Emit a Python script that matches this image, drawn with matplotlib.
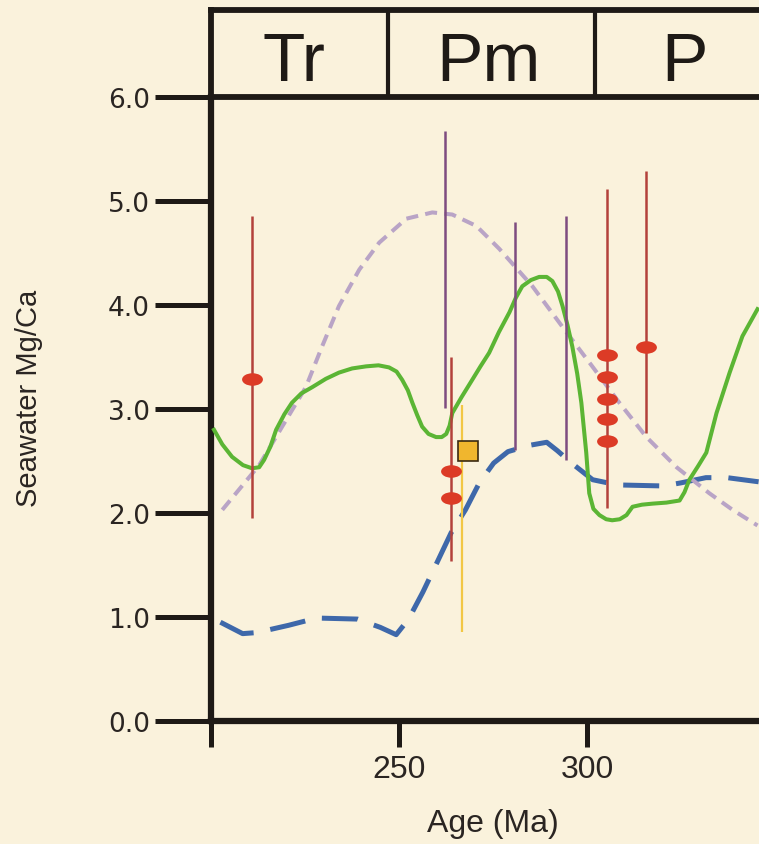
import matplotlib
matplotlib.use("Agg")
import matplotlib.pyplot as plt
from matplotlib import font_manager
from matplotlib.path import Path
from matplotlib.transforms import Affine2D

# green solid curve (age Ma, Mg/Ca)
green_age = [200.8, 203.0, 205.6, 208.5, 210.9, 212.8, 214.1, 215.8, 217.3, 219.5, 221.5, 224.0, 226.9,
             230.5, 234.0, 237.5, 241.2, 244.5, 247.3, 249.3, 250.8, 252.3, 253.5, 254.8, 256.1, 257.8,
             259.8, 261.3, 262.5, 263.4, 264.1, 266.5, 269.4, 271.6, 273.9, 276.5, 279.3, 281.0, 282.7,
             285.0, 287.2, 289.2, 290.7, 292.2, 293.4, 294.7, 296.0, 297.3, 298.4, 299.7, 300.5, 301.6,
             303.2, 305.0, 306.6, 308.6, 310.4, 312.0, 314.5, 317.3, 321.0, 324.5, 325.8, 327.1, 329.4,
             331.6, 334.3, 337.8, 341.2, 345.2]
green_val = [2.80, 2.66, 2.54, 2.46, 2.43, 2.44, 2.51, 2.64, 2.80, 2.95, 3.06, 3.15, 3.21,
             3.29, 3.35, 3.39, 3.41, 3.42, 3.40, 3.36, 3.28, 3.18, 3.06, 2.94, 2.83, 2.76,
             2.73, 2.73, 2.76, 2.84, 2.96, 3.11, 3.28, 3.41, 3.54, 3.74, 3.93, 4.07, 4.18,
             4.24, 4.27, 4.27, 4.23, 4.13, 3.99, 3.81, 3.60, 3.34, 3.06, 2.58, 2.19, 2.04,
             1.98, 1.94, 1.93, 1.94, 1.98, 2.06, 2.08, 2.09, 2.10, 2.12, 2.20, 2.32, 2.45,
             2.58, 2.96, 3.35, 3.70, 3.96]

# lavender dashed curve
lav_age = [203.0, 212.8, 218.9, 225.2, 229.5, 234.0, 239.4, 244.7, 251.9, 258.8, 264.1, 270.5,
           276.6, 285.4, 294.4, 301.3, 308.5, 315.7, 323.7, 332.4, 338.6, 345.2]
lav_val = [2.03, 2.46, 2.83, 3.21, 3.60, 3.99, 4.34, 4.60, 4.83, 4.89, 4.87, 4.76,
           4.54, 4.18, 3.74, 3.41, 3.06, 2.73, 2.44, 2.19, 2.03, 1.88]

# blue dashed curve
blue_age = [202.5, 208.4, 212.1, 220.6, 228.1, 238.9, 245.0, 249.2, 252.5, 256.3, 260.0, 263.8,
            267.6, 271.3, 275.1, 278.9, 284.5, 289.2, 292.0, 295.8, 301.4, 308.0, 320.2, 324.9,
            331.5, 337.1, 345.5]
blue_val = [0.95, 0.84, 0.85, 0.92, 0.99, 0.98, 0.90, 0.83, 0.98, 1.24, 1.52, 1.81,
            2.03, 2.29, 2.48, 2.59, 2.65, 2.68, 2.60, 2.48, 2.32, 2.27, 2.26, 2.29,
            2.34, 2.34, 2.30]

# vertical range bars
bar_age = [210.9, 262.2, 263.8, 280.9, 294.4, 305.3, 315.7]
bar_lo = [1.95, 3.01, 1.54, 2.61, 2.51, 2.05, 2.77]
bar_hi = [4.86, 5.67, 3.50, 4.80, 4.86, 5.12, 5.29]
bar_kind = ["red", "purple", "red", "purple", "purple", "red", "red"]

# red ellipse estimates
ell_age = [210.9, 263.8, 263.8, 305.3, 305.3, 305.3, 305.3, 305.3, 315.7]
ell_val = [3.29, 2.40, 2.14, 3.52, 3.31, 3.10, 2.90, 2.69, 3.60]

# yellow range and square
yel_age = 266.8
yel_lo, yel_hi = 0.86, 3.04
sq_age, sq_val = 268.4, 2.60

# period header
period_names = ["Tr", "Pm", "P"]
period_mid = [222.1, 273.7, 325.8]
period_bounds = [247.0, 302.0]

y_ticks = [0.0, 1.0, 2.0, 3.0, 4.0, 5.0, 6.0]
x_ticks = [200, 250, 300]
x_ticklabels = ["", "250", "300"]

bg = "#faf2dc"
ink = "#1e1a16"
txt = "#2a2522"
bar_colors = {"red": "#b3413b", "purple": "#7e4c80"}

# narrow sans if present, else regular with smaller sizes
try:
    font_manager.findfont("Liberation Sans Narrow", fallback_to_default=False)
    narrow = "Liberation Sans Narrow"
    sz_hdr, sz_tick, sz_xlab, sz_ylab = 54, 25, 26, 25
except Exception:
    narrow = "Liberation Sans"
    sz_hdr, sz_tick, sz_xlab, sz_ylab = 50, 23, 23, 21

W, H = 759, 845
fig = plt.figure(figsize=(W / 100, H / 100), dpi=100, facecolor=bg)

ax = fig.add_axes([211 / W, 123 / H, 548 / W, 624 / H], facecolor=bg)
hdr = fig.add_axes([211 / W, 747 / H, 548 / W, 87 / H], facecolor=bg)

xlim = (200, 345.6)
ax.set_xlim(*xlim)
ax.set_ylim(0, 6)

ax.plot(blue_age, blue_val, color="#3e68aa", lw=3.6, dashes=(7.2, 3.4), solid_capstyle="butt", zorder=2)
ax.plot(lav_age, lav_val, color="#b9a4c6", lw=2.9, dashes=(3.0, 1.8), zorder=2)
ax.plot(green_age, green_val, color="#5bb534", lw=2.9, zorder=3)

for a, lo, hi, k in zip(bar_age, bar_lo, bar_hi, bar_kind):
    ax.vlines(a, lo, hi, color=bar_colors[k], lw=1.8, zorder=4)

ax.vlines(yel_age, yel_lo, yel_hi, color="#f2c744", lw=1.6, zorder=4)

ellipse = Path.unit_circle().transformed(Affine2D().scale(1.0, 0.6))
ax.plot(ell_age, ell_val, ls="none", marker=ellipse, markersize=15,
        color="#dc3b26", markeredgewidth=0, zorder=5)
ax.plot([sq_age], [sq_val], ls="none", marker="s", markersize=14,
        markerfacecolor="#f0b62e", markeredgecolor="#3a2a12", markeredgewidth=1.2, zorder=6)

for s in ["top", "right"]:
    ax.spines[s].set_visible(False)
for s in ["left", "bottom"]:
    ax.spines[s].set_linewidth(4.5)
    ax.spines[s].set_color(ink)

ax.set_yticks(y_ticks)
ax.set_yticklabels([f"{v:.1f}" for v in y_ticks])
ax.set_xticks(x_ticks)
ax.set_xticklabels(x_ticklabels)
ax.tick_params(axis="y", length=40, width=3.6, color=ink, pad=4,
               labelsize=19, labelcolor=txt)
ax.tick_params(axis="x", length=19, width=3.6, color=ink, pad=5,
               labelsize=sz_tick, labelcolor=txt)
for lab in ax.get_xticklabels():
    lab.set_family(narrow)
for lab in ax.get_yticklabels():
    lab.set_family("DejaVu Sans")

# header with period boxes
hdr.set_xlim(*xlim)
hdr.set_ylim(0, 1)
hdr.set_xticks([])
hdr.set_yticks([])
hdr.spines["right"].set_visible(False)
for s in ["top", "bottom", "left"]:
    hdr.spines[s].set_linewidth(4.2)
    hdr.spines[s].set_color(ink)
for b in period_bounds:
    hdr.axvline(b, color=ink, lw=3.0)
for name, m in zip(period_names, period_mid):
    hdr.text(m, 0.19, name, ha="center", va="baseline", fontsize=sz_hdr,
             family=narrow, color=ink)

fig.text(29 / W, 1 - 398 / H, "Seawater Mg/Ca", rotation=90, ha="center", va="center",
         fontsize=sz_ylab, family=narrow, color=txt)
fig.text(493 / W, 1 - 832 / H, "Age (Ma)", ha="center", va="baseline",
         fontsize=sz_xlab, family=narrow, color=txt)

fig.savefig("out.png", dpi=100, facecolor=bg)
